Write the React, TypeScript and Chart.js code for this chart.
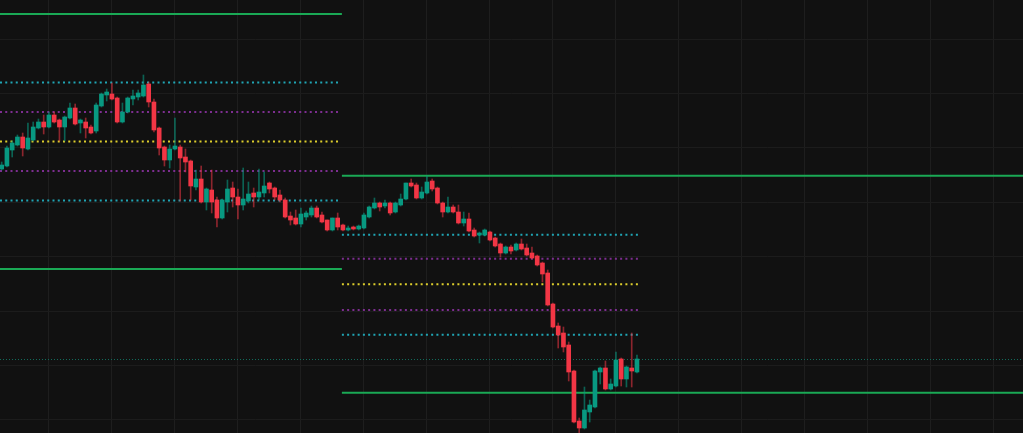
import React, { useEffect, useRef } from "react";
import { Chart, registerables } from "chart.js";
Chart.register(...registerables);

const opens = [83.1,83.4,85.0,85.5,86.3,85.1,86.0,87.2,87.8,87.3, 88.5,88.0,87.3,88.2,89.2,87.7,87.8,87.3,86.9,89.4, 90.5,90.6,90.2,87.8,88.8,90.1,90.3,90.4,91.6,89.8, 87.2,85.3,84.0,85.1,85.3,84.3,83.9,81.3,82.1,79.8, 81.0,80.0,78.2,79.8,81.2,80.3,79.5,79.9,80.7,80.3, 80.7,81.7,81.2,80.5,80.0,78.4,78.2,77.6,78.3,78.5, 79.2,78.5,78.0,77.0,78.2,77.5,77.0,77.3,77.1,77.2, 78.3,79.2,79.7,79.4,79.7,78.8,79.5,80.1,81.7,81.5, 80.2,80.7,81.9,81.2,79.7,78.8,79.3,78.8,77.7,78.1, 77.0,76.5,76.5,76.8,76.2,75.6,74.7,75.3,75.0,75.6, 75.2,74.7,74.4,73.7,72.7,69.6,67.4,66.7,65.5,62.9, 57.9,57.2,58.8,59.3,62.8,63.2,61.1,61.4,64.1,62.1, 63.2,62.8];
const closes = [83.5,85.2,85.7,86.3,85.2,86.2,87.3,87.8,87.3,88.5, 87.8,87.3,88.3,89.2,87.6,88.0,87.2,86.7,89.5,90.6, 90.8,90.1,87.8,88.8,90.2,90.4,90.7,91.5,89.8,87.0, 85.2,84.0,85.1,85.4,84.2,83.8,81.4,82.1,79.8,81.1, 79.8,78.2,80.0,81.1,80.3,79.5,80.1,80.6,80.3,80.8, 81.4,81.1,80.3,80.0,78.3,78.0,77.6,78.6,78.7,79.2, 78.3,77.8,77.0,78.2,77.3,77.0,77.2,77.1,77.4,78.5, 79.3,79.7,79.3,79.7,78.7,79.7,80.1,81.7,81.4,80.2, 80.8,81.8,81.1,79.7,78.8,79.3,78.8,77.7,78.1,76.9, 76.4,76.7,77.0,76.0,75.4,74.7,75.3,74.9,75.6,75.1, 74.5,74.2,73.5,72.6,69.5,67.3,66.5,65.3,62.8,57.8, 57.2,59.0,59.5,62.9,63.2,61.1,61.6,64.0,62.1,63.3, 62.9,64.1];
const highs = [83.8,85.4,85.9,86.5,86.7,87.7,87.8,88.1,88.5,88.8, 88.8,88.1,88.4,89.7,89.6,88.1,88.2,87.5,89.7,90.7, 91.1,91.7,90.3,89.7,90.3,91.0,91.0,92.5,91.8,90.1, 87.3,85.4,85.5,88.2,85.5,85.1,84.0,83.0,83.4,81.2, 83.0,80.3,80.1,82.0,81.8,81.1,83.2,81.8,81.2,83.1, 82.8,81.8,81.3,81.0,80.2,78.8,79.0,79.2,78.9,79.4, 79.4,78.8,78.0,78.2,78.7,77.6,77.4,77.4,77.5,78.7, 79.4,80.2,79.8,80.0,79.8,79.8,80.6,81.7,82.1,81.7, 81.3,82.4,82.1,81.3,79.8,80.3,79.5,79.5,78.8,78.7, 77.2,76.8,77.1,76.9,76.3,75.7,75.4,75.5,75.7,76.1, 75.6,75.3,74.5,73.8,73.0,69.7,67.7,67.3,65.8,63.0, 58.2,61.3,60.0,63.0,63.3,63.9,62.1,64.8,64.2,63.4, 66.7,64.5];
const lows = [83.0,83.3,84.3,85.4,84.4,85.0,85.9,87.1,86.6,87.2, 87.7,85.9,85.9,88.1,87.5,86.7,86.2,86.6,86.7,89.3, 89.9,90.0,87.7,87.7,88.7,89.5,90.0,90.3,89.3,86.8, 84.5,83.4,83.2,85.0,79.9,82.8,80.0,81.0,79.7,79.0, 78.7,77.3,78.1,78.8,79.3,78.1,79.0,79.7,79.3,80.0, 80.3,80.7,80.0,79.8,78.2,77.5,77.5,77.3,78.0,78.3, 78.2,77.7,76.9,76.9,77.0,76.9,76.9,77.0,77.0,77.1, 78.2,79.1,78.9,79.2,78.5,78.7,79.4,80.0,81.3,80.1, 80.1,80.6,80.9,79.6,78.3,78.7,78.7,77.6,77.4,76.8, 76.3,75.7,76.4,75.9,75.3,74.3,74.6,74.6,74.9,75.0, 74.4,74.1,73.4,71.8,69.4,67.2,65.2,64.8,61.9,57.7, 56.7,57.1,57.8,59.2,61.6,61.0,61.0,61.3,61.4,61.3, 61.3,62.7];

// Session pivot levels
const leftGreen = [98.6, 73.1];
const leftCyan = [91.75, 79.95];
const leftPurple = [88.8, 82.9];
const leftYellow = [85.85];
const rightGreen = [82.43, 60.73];
const rightCyan = [76.53, 66.53];
const rightPurple = [74.13, 69.0];
const rightYellow = [71.57];
const lastPrice = 64.05;

const xStart = -0.32;
const xEnd = 194.53;
const sessionBreak = 64.8;
const levelsEnd = 121.2;
const gridX = [9, 21, 33, 45, 57, 69, 81, 93, 105, 117, 129, 141, 153, 165, 177, 189];
const gridY = [96.1, 90.66, 85.22, 79.78, 74.34, 68.9, 63.46, 58.02];
const yMin = 56.7;
const yMax = 100;

const UP = "#089981";
const DOWN = "#f23645";
const UP_WICK = "rgba(8,153,129,0.6)";
const DOWN_WICK = "rgba(242,54,69,0.55)";
const GREEN = "#1aa955";
const CYAN = "#20a5b4";
const PURPLE = "#7d2e90";
const YELLOW = "#dccd2c";

function seg(y: number, x0: number, x1: number, color: string, dotted: boolean) {
  return {
    type: "line" as const,
    data: [{ x: x0, y }, { x: x1, y }],
    borderColor: color,
    borderWidth: 2,
    borderDash: dotted ? [2, 3.25] : [],
    pointRadius: 0,
    order: 3,
  };
}

export default function App() {
  const ref = useRef<HTMLCanvasElement>(null);
  useEffect(() => {
    document.body.style.margin = "0";
    document.body.style.background = "#111111";
    const up = opens.map((o, i) => closes[i] >= o);
    const lines: any[] = [];
    leftGreen.forEach((v) => lines.push(seg(v, xStart, sessionBreak, GREEN, false)));
    leftCyan.forEach((v) => lines.push(seg(v, xStart, sessionBreak - 0.3, CYAN, true)));
    leftPurple.forEach((v) => lines.push(seg(v, xStart, sessionBreak - 0.3, PURPLE, true)));
    leftYellow.forEach((v) => lines.push(seg(v, xStart, sessionBreak - 0.3, YELLOW, true)));
    rightGreen.forEach((v) => lines.push(seg(v, sessionBreak, xEnd, GREEN, false)));
    rightCyan.forEach((v) => lines.push(seg(v, sessionBreak, levelsEnd, CYAN, true)));
    rightPurple.forEach((v) => lines.push(seg(v, sessionBreak, levelsEnd, PURPLE, true)));
    rightYellow.forEach((v) => lines.push(seg(v, sessionBreak, levelsEnd, YELLOW, true)));
    lines.push({
      type: "line",
      data: [{ x: xStart, y: lastPrice }, { x: xEnd, y: lastPrice }],
      borderColor: "#126b5b",
      borderWidth: 1,
      borderDash: [1, 2],
      pointRadius: 0,
      order: 4,
    });
    const chart = new Chart(ref.current!, {
      type: "bar",
      data: {
        datasets: [
          {
            type: "bar",
            data: opens.map((o, i) => ({ x: i, y: [o, closes[i]] })) as any,
            backgroundColor: up.map((u) => (u ? UP : DOWN)),
            barThickness: 4,
            minBarLength: 1,
            grouped: false,
            order: 0,
          } as any,
          {
            type: "bar",
            data: opens.map((_, i) => ({ x: i, y: [lows[i], highs[i]] })) as any,
            backgroundColor: up.map((u) => (u ? UP_WICK : DOWN_WICK)),
            barThickness: 1,
            grouped: false,
            order: 1,
          } as any,
          ...lines,
        ],
      },
      options: {
        animation: false,
        responsive: false,
        devicePixelRatio: 1,
        events: [],
        layout: { padding: 0 },
        plugins: { legend: { display: false }, tooltip: { enabled: false } },
        scales: {
          x: {
            type: "linear",
            min: xStart,
            max: xEnd,
            offset: false,
            afterBuildTicks: (s: any) => {
              s.ticks = gridX.map((v) => ({ value: v }));
            },
            ticks: { display: false },
            grid: { color: "#1e1e1e", lineWidth: 1, drawTicks: false, offset: false },
            border: { display: false },
          },
          y: {
            type: "linear",
            min: yMin,
            max: yMax,
            afterBuildTicks: (s: any) => {
              s.ticks = gridY.map((v) => ({ value: v }));
            },
            ticks: { display: false },
            grid: { color: "#1c1c1c", lineWidth: 1, drawTicks: false },
            border: { display: false },
          },
        },
      } as any,
    });
    return () => chart.destroy();
  }, []);
  return (
    <div style={{ width: 1023, height: 433, background: "#111111" }}>
      <canvas ref={ref} width={1023} height={433} style={{ display: "block" }} />
    </div>
  );
}
